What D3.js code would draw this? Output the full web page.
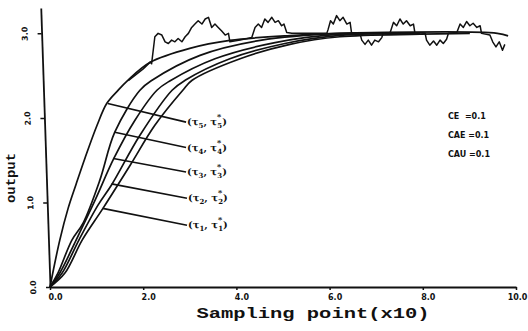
<!DOCTYPE html>
<html>
<head>
<meta charset="utf-8">
<script src="https://cdn.jsdelivr.net/npm/d3@7"></script>
<style>
  body { margin: 0; background: #fff; }
  svg { display: block; }
</style>
</head>
<body>
<script>
// tick values and labels
var xTicks = [0, 2, 4, 6, 8, 10];
var xTickLabels = ["0.0", "2.0", "4.0", "6.0", "8.0", "10.0"];
var yTicks = [0, 1, 2, 3];
var yTickLabels = ["0.0", "1.0", "2.0", "3.0"];

// step responses as [x, y]
var curve1 = [[0, 0], [0.21, 0.555], [0.39, 0.933], [0.56, 1.216], [0.75, 1.523], [1.01, 1.913], [1.22, 2.173],
  [1.46, 2.326], [1.67, 2.444], [2.15, 2.657], [3.0, 2.822], [3.86, 2.916], [5.15, 2.975], [6.22, 3.0], [9.6, 3.0], [9.83, 2.97]];
var curve2 = [[0, 0], [0.17, 0.165], [0.47, 0.555], [0.71, 0.756], [1.07, 1.264], [1.39, 1.831], [1.93, 2.327],
  [2.19, 2.445], [3.22, 2.74], [4.51, 2.917], [6.22, 3.0], [7.94, 3.0]];
var curve3 = [[0, 0], [0.21, 0.165], [0.56, 0.555], [0.97, 1.03], [1.37, 1.52], [1.82, 1.97], [2.30, 2.33],
  [2.58, 2.44], [3.54, 2.70], [4.83, 2.89], [6.22, 2.99], [7.94, 3.0]];
var curve4 = [[0, 0], [0.26, 0.165], [0.62, 0.555], [1.03, 0.968], [1.33, 1.216], [1.93, 1.795], [2.62, 2.327],
  [2.90, 2.445], [3.86, 2.70], [5.04, 2.88], [6.22, 2.976], [7.94, 3.0]];
var curve5 = [[0, 0], [0.32, 0.165], [0.69, 0.555], [1.14, 0.933], [1.72, 1.44], [2.25, 1.913], [2.85, 2.327],
  [3.05, 2.445], [4.08, 2.70], [5.15, 2.87], [6.22, 2.96], [7.94, 2.99], [9.01, 3.0]];

// measured (noisy) output
var noisy = [[1.68, 2.44], [2.00, 2.58], [2.15, 2.66], [2.18, 2.64], [2.25, 2.96], [2.32, 3.00], [2.40, 2.98],
  [2.47, 2.90], [2.54, 2.88], [2.61, 2.92], [2.68, 2.90], [2.75, 2.94], [2.83, 2.90], [2.90, 2.96], [2.97, 3.00],
  [3.04, 3.07], [3.11, 3.11], [3.18, 3.15], [3.26, 3.11], [3.33, 3.17], [3.40, 3.19], [3.47, 3.07], [3.54, 3.11],
  [3.61, 3.07], [3.68, 3.03], [3.76, 2.98], [3.83, 3.00], [3.86, 2.90], [4.08, 2.92], [4.33, 2.95], [4.40, 3.07],
  [4.47, 3.11], [4.54, 3.07], [4.61, 3.17], [4.68, 3.13], [4.76, 3.19], [4.83, 3.13], [4.90, 3.15], [4.97, 3.09],
  [5.02, 3.11], [5.08, 3.01], [5.19, 3.00], [5.94, 3.00], [5.97, 3.05], [6.02, 3.15], [6.08, 3.11], [6.15, 3.21],
  [6.22, 3.15], [6.29, 3.19], [6.37, 3.11], [6.44, 3.13], [6.47, 3.01], [6.65, 3.00], [6.69, 2.92], [6.76, 2.87],
  [6.83, 2.92], [6.90, 2.86], [6.97, 2.92], [7.05, 2.90], [7.12, 2.95], [7.15, 3.00], [7.30, 3.01], [7.37, 3.13],
  [7.44, 3.09], [7.51, 3.17], [7.58, 3.11], [7.65, 3.15], [7.73, 3.09], [7.80, 3.11], [7.83, 3.01], [8.05, 3.00],
  [8.08, 2.92], [8.15, 2.86], [8.23, 2.91], [8.30, 2.86], [8.37, 2.92], [8.44, 2.88], [8.51, 2.93], [8.55, 3.00],
  [8.73, 3.01], [8.80, 3.11], [8.87, 3.07], [8.94, 3.14], [9.01, 3.09], [9.08, 3.12], [9.16, 3.07], [9.23, 3.09],
  [9.26, 3.00], [9.44, 2.98], [9.50, 2.90], [9.57, 2.84], [9.64, 2.90], [9.71, 2.80], [9.76, 2.87]];

// curve labels: subscript, point on curve, label anchor
var labelSubs = ["5", "4", "3", "2", "1"];
var labelFrom = [[1.24, 2.17], [1.39, 1.83], [1.36, 1.52], [1.32, 1.22], [1.13, 0.93]];
var labelTo = [[2.92, 1.95], [2.92, 1.65], [2.92, 1.36], [2.94, 1.05], [2.94, 0.73]];

var legendNames = ["CE  =0.1", "CAE =0.1", "CAU =0.1"];

var width = 528, height = 331;
var x = d3.scaleLinear().domain([0, 10]).range([50, 516]);
var y = d3.scaleLinear().domain([0, 3.3]).range([287, 8]);

var svg = d3.select("body").append("svg")
  .attr("width", width)
  .attr("height", height);

var ink = "#111";

// y axis (the scan leans a little)
var gy = svg.append("g")
  .attr("transform", "translate(50,287) skewX(1.9) translate(-50,-287) translate(50,0)")
  .call(d3.axisLeft(y).tickValues(yTicks).tickFormat(function(d, i) { return yTickLabels[i]; })
    .tickSize(4).tickSizeOuter(0));
gy.select(".domain").attr("stroke", ink).attr("stroke-width", 1.8);
gy.selectAll(".tick line").attr("stroke", ink).attr("stroke-width", 1.5);
gy.selectAll(".tick text")
  .attr("transform", "rotate(-90)")
  .attr("x", 0).attr("y", -14).attr("dy", 0)
  .attr("text-anchor", "middle")
  .attr("font-family", "DejaVu Sans").attr("font-weight", "bold").attr("font-size", 8)
  .attr("fill", ink);

// x axis
var gx = svg.append("g")
  .attr("transform", "translate(0,287)")
  .call(d3.axisBottom(x).tickValues(xTicks).tickFormat(function(d, i) { return xTickLabels[i]; })
    .tickSize(3).tickSizeOuter(0));
gx.select(".domain").attr("stroke", ink).attr("stroke-width", 1.8);
gx.selectAll(".tick line").attr("stroke", ink).attr("stroke-width", 1.5);
gx.selectAll(".tick text")
  .attr("dx", function(d, i) { return i === xTicks.length - 1 ? 1 : 5; })
  .attr("y", 7)
  .attr("font-family", "DejaVu Sans").attr("font-weight", "bold").attr("font-size", 8)
  .attr("fill", ink);

// axis titles
svg.append("text")
  .attr("transform", "translate(15,178) rotate(-90)")
  .attr("text-anchor", "middle")
  .attr("font-family", "Liberation Mono").attr("font-weight", "bold").attr("font-size", 12)
  .attr("textLength", 50).attr("lengthAdjust", "spacingAndGlyphs")
  .attr("fill", ink)
  .text("output");

svg.append("text")
  .attr("x", 313).attr("y", 318)
  .attr("text-anchor", "middle")
  .attr("font-family", "Liberation Mono").attr("font-weight", "bold").attr("font-size", 14)
  .attr("textLength", 233).attr("lengthAdjust", "spacingAndGlyphs")
  .attr("fill", ink)
  .text("Sampling point(x10)");

// curves
var line = d3.line()
  .x(function(d) { return x(d[0]); })
  .y(function(d) { return y(d[1]); })
  .curve(d3.curveCatmullRom.alpha(0.5));

var curves = [curve1, curve2, curve3, curve4, curve5];
svg.append("g").selectAll("path").data(curves)
  .enter().append("path")
  .attr("d", line)
  .attr("fill", "none")
  .attr("stroke", ink)
  .attr("stroke-width", 1.7);

var noisyLine = d3.line()
  .x(function(d) { return x(d[0]); })
  .y(function(d) { return y(d[1]); });

svg.append("path")
  .attr("d", noisyLine(noisy))
  .attr("fill", "none")
  .attr("stroke", ink)
  .attr("stroke-width", 1.5)
  .attr("stroke-linejoin", "round");

// leader lines and labels
var labels = svg.append("g");
labelSubs.forEach(function(s, i) {
  labels.append("line")
    .attr("x1", x(labelFrom[i][0])).attr("y1", y(labelFrom[i][1]))
    .attr("x2", x(labelTo[i][0])).attr("y2", y(labelTo[i][1]))
    .attr("stroke", ink).attr("stroke-width", 1.7);
  var t = labels.append("text")
    .attr("x", x(labelTo[i][0]) + 1).attr("y", y(labelTo[i][1]) + 3)
    .attr("font-family", "DejaVu Serif").attr("font-weight", "bold").attr("font-size", 10)
    .attr("fill", ink);
  t.append("tspan").text("(τ");
  t.append("tspan").attr("dy", 3).attr("font-size", 7).text(s);
  t.append("tspan").attr("dy", -3).text(", τ");
  t.append("tspan").attr("dy", -6).attr("font-size", 8).text("*");
  t.append("tspan").attr("dx", -4).attr("dy", 9).attr("font-size", 7).text(s);
  t.append("tspan").attr("dy", -3).text(")");
});

// legend text
svg.append("g").selectAll("text").data(legendNames)
  .enter().append("text")
  .attr("x", 448)
  .attr("y", function(d, i) { return 119 + i * 19; })
  .attr("font-family", "DejaVu Sans").attr("font-weight", "bold").attr("font-size", 8)
  .attr("fill", ink)
  .attr("xml:space", "preserve")
  .text(function(d) { return d; });
</script>
</body>
</html>
